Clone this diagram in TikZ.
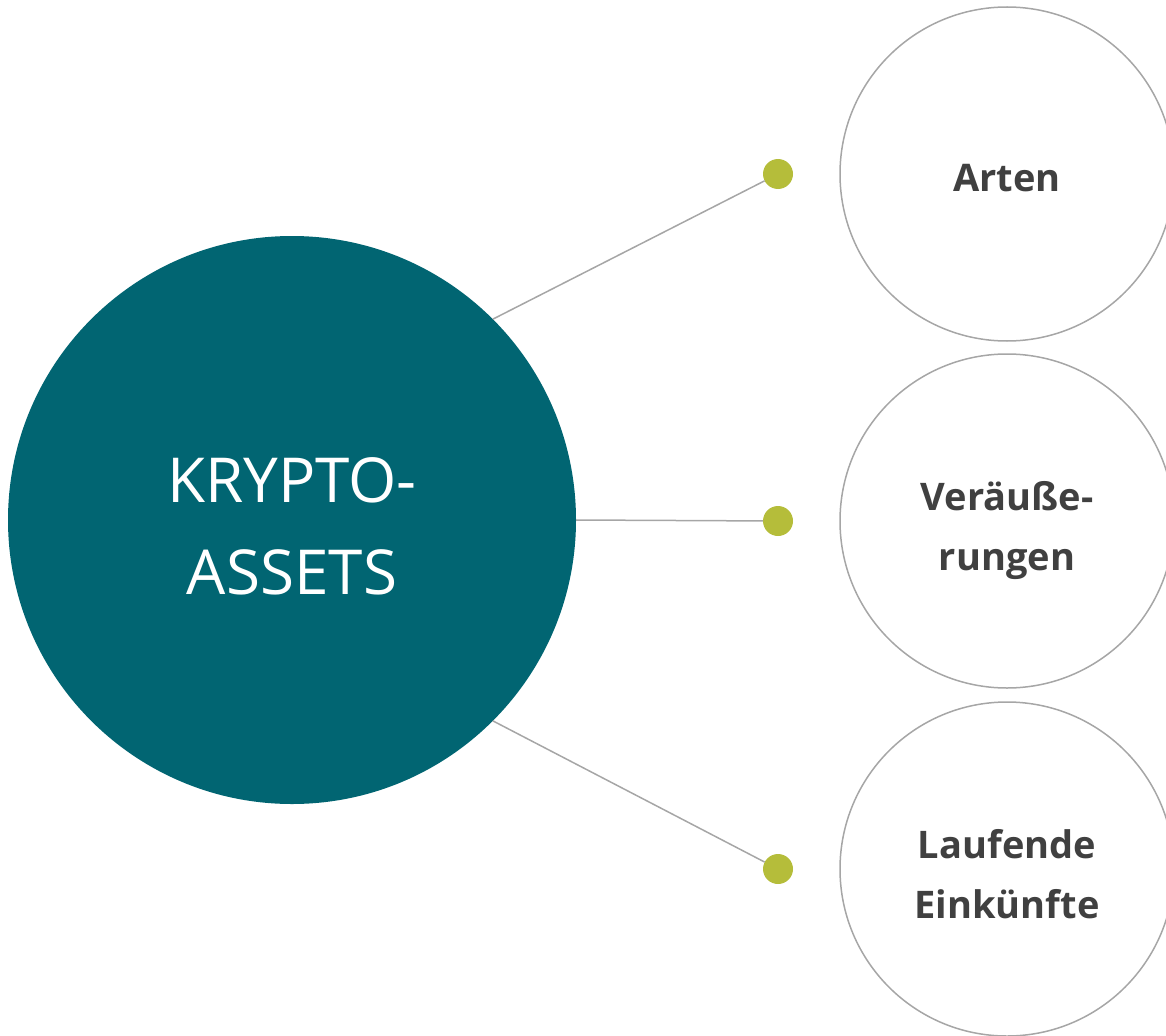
\documentclass[tikz,border=0pt]{standalone}
\usepackage{fontspec}
\setmainfont{Open Sans}
\usepackage{tikz}
\usetikzlibrary{positioning}
\definecolor{coreCol}{HTML}{016572}
\definecolor{dotCol}{HTML}{B5BD3A}
\definecolor{lineCol}{HTML}{A6A6A6}
\definecolor{txtCol}{HTML}{404040}
\tikzset{
  core/.style={circle, fill=coreCol, minimum size=568pt, inner sep=0pt, outer sep=0pt},
  coreTxt/.style={text=white, align=center, inner sep=0pt, font=\fontsize{62}{92}\selectfont},
  topic/.style={circle, draw=lineCol, line width=1.5pt, fill=white, minimum size=334pt,
        inner sep=0pt, outer sep=0pt},
  topicTxt/.style={text=txtCol, align=center, inner sep=0pt,
        font=\fontsize{38}{60}\selectfont\bfseries},
  knob/.style={circle, fill=dotCol, minimum size=30pt, inner sep=0pt, outer sep=0pt},
  link/.style={draw=lineCol, line width=1.5pt},
}

\begin{document}
\begin{tikzpicture}[x=1pt, y=-1pt]
  \useasboundingbox (0,0) rectangle (1166,1035);
  \clip (0,0) rectangle (1166,1035);
  \node[core] (kr) at (292,520) {};
  \node[topic] (t1) at (1007,174) {};
  \node[topic] (t2) at (1007,521) {};
  \node[topic] (t3) at (1007,869) {};
  % texts, set a bit below the circle centres
  \node[coreTxt, yshift=-6pt] (krT) at (kr) {KRYPTO-\\ASSETS};
  \node[topicTxt, yshift=-4pt] (t1T) at (t1) {Arten};
  \node[topicTxt, yshift=-10pt] (t2T) at (t2) {Veräuße-\\rungen};
  \node[topicTxt, yshift=-5pt] (t3T) at (t3) {Laufende\\Einkünfte};
  % green knobs in front of each topic
  \node[knob, left=47pt of t1] (k1) {};
  \node[knob, left=47pt of t2] (k2) {};
  \node[knob, left=47pt of t3] (k3) {};
  \draw[link] (kr.45) -- (k1);
  \draw[link] (kr.east) -- (k2);
  \draw[link] (kr.-45) -- (k3);
\end{tikzpicture}
\end{document}
